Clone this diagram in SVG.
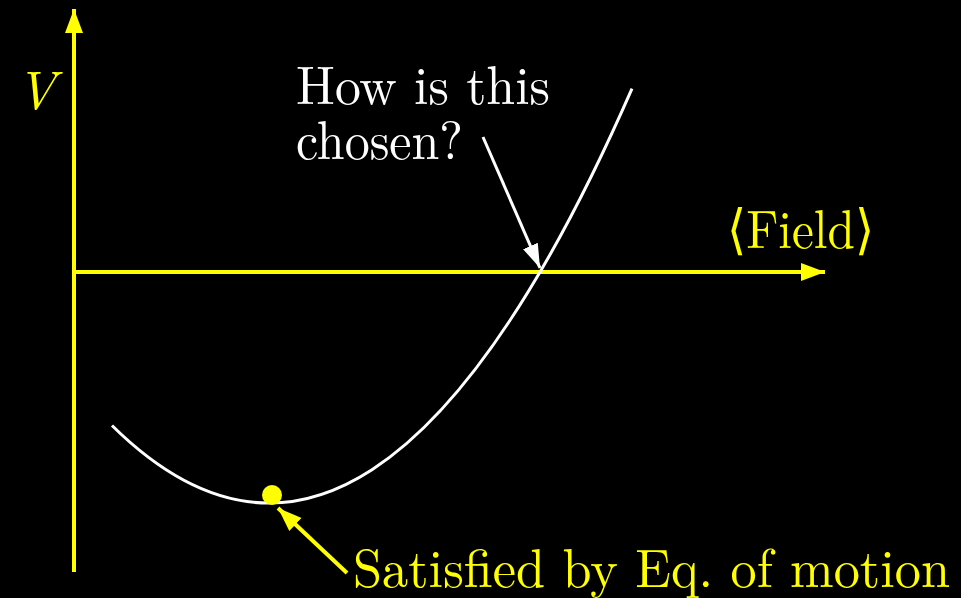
<svg xmlns="http://www.w3.org/2000/svg" width="961" height="598" viewBox="0 0 961 598">
<defs>
<marker id="ay" markerUnits="userSpaceOnUse" markerWidth="26" markerHeight="20" refX="24" refY="10" orient="auto">
<path d="M0,1 L24,10 L0,19 Z" fill="#ffff00"/>
</marker>
<marker id="aw" markerUnits="userSpaceOnUse" markerWidth="26" markerHeight="20" refX="24" refY="10" orient="auto">
<path d="M0,2 L24,10 L0,18 Z" fill="#ffffff"/>
</marker>
</defs>
<rect width="961" height="598" fill="#000"/>
<g id="connectors" fill="none">
<line x1="74" y1="572" x2="74" y2="9" stroke="#ffff00" stroke-width="4" marker-end="url(#ay)"/>
<line x1="72" y1="272" x2="825" y2="272" stroke="#ffff00" stroke-width="4" marker-end="url(#ay)"/>
<path d="M112,425.5 Q372,682.3 632,88.6" stroke="#ffffff" stroke-width="3"/>
<line x1="483" y1="137" x2="540" y2="268" stroke="#ffffff" stroke-width="3" marker-end="url(#aw)"/>
<line x1="347" y1="573" x2="278" y2="508" stroke="#ffff00" stroke-width="4" marker-end="url(#ay)"/>
</g>
<g id="dot"><circle cx="272" cy="495" r="10" fill="#ffff00"/></g>
<g font-family="Latin Modern Roman, Liberation Serif, serif" font-size="54">
<g id="label-V"><text fill="#ffff00" x="16" y="109" font-style="italic" textLength="40" lengthAdjust="spacingAndGlyphs">V</text></g>
<g id="label-question" fill="#ffffff">
<text x="296" y="104" textLength="254" lengthAdjust="spacingAndGlyphs">How is this</text>
<text x="296" y="159" textLength="167" lengthAdjust="spacingAndGlyphs">chosen?</text>
</g>
<g id="label-field"><text fill="#ffff00" x="727" y="248" textLength="147" lengthAdjust="spacingAndGlyphs">⟨Field⟩</text></g>
<g id="label-eom"><text fill="#ffff00" x="353" y="587" textLength="597" lengthAdjust="spacingAndGlyphs">Satisfied by Eq. of motion</text></g>
</g>
</svg>
